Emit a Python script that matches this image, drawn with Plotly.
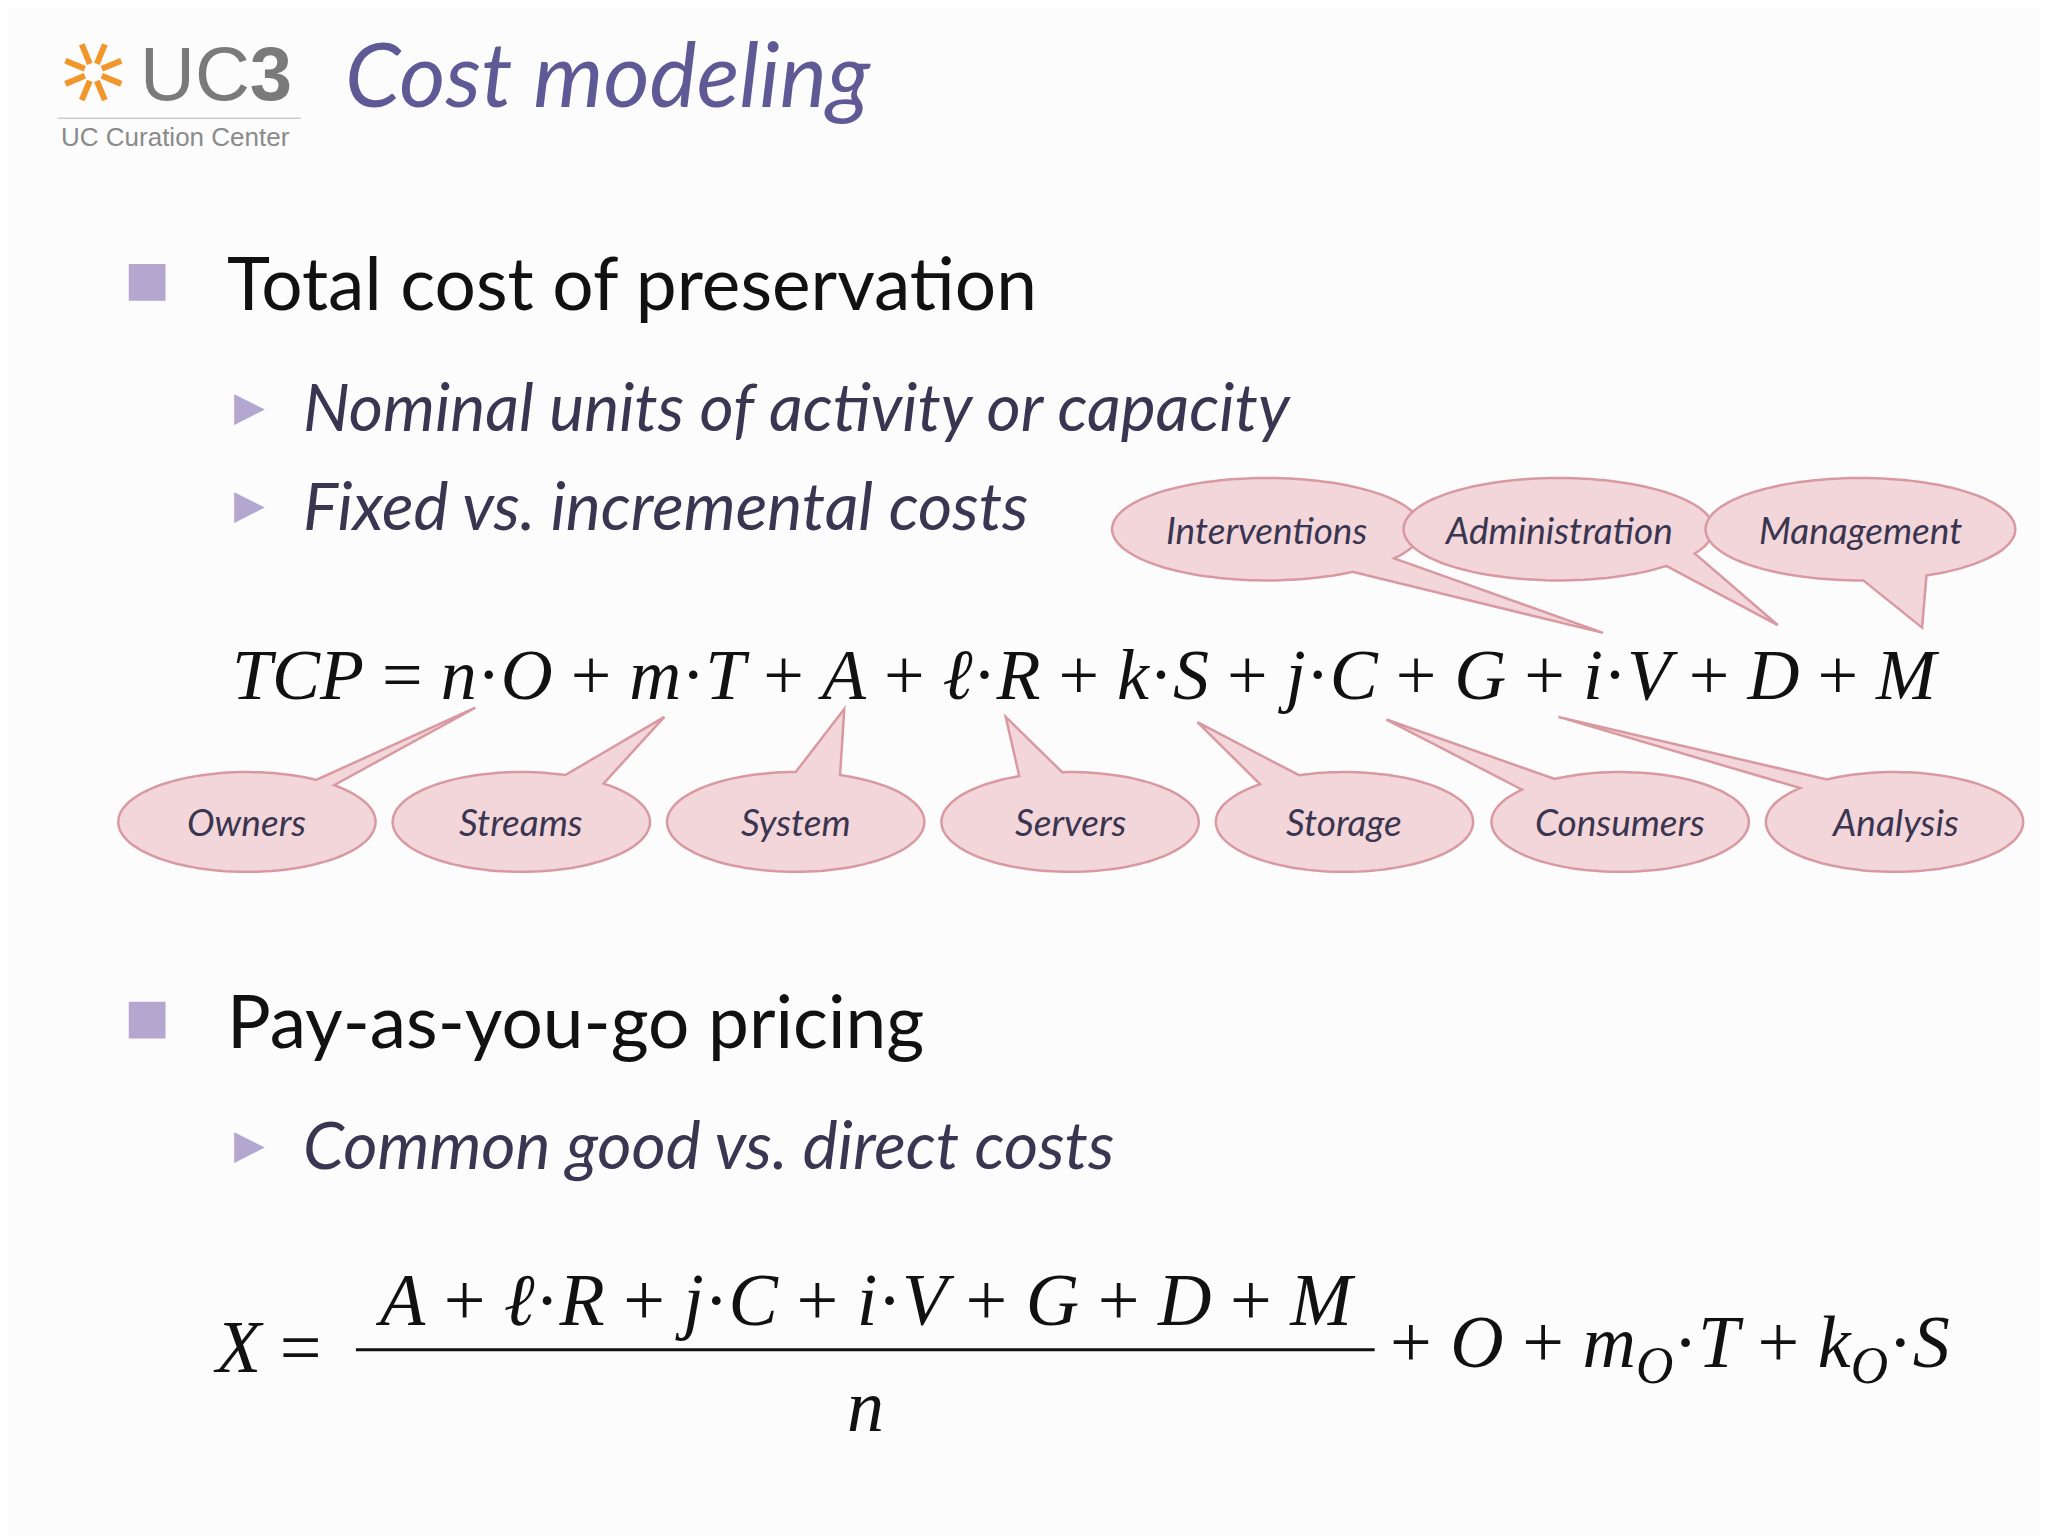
import numpy as np
import plotly.graph_objects as go

# callout bubbles: label, centre, tail tip, tail base points
top_labels = ["Interventions", "Administration", "Management"]
top_cx = [966, 1188, 1418]
top_tip = [(1222, 484), (1355, 478), (1465, 480)]
top_base = [((1030, 437), (1075, 430)), ((1270, 433), (1300, 425)), ((1420, 440), (1465, 438))]

bot_labels = ["Owners", "Streams", "System", "Servers", "Storage", "Consumers", "Analysis"]
bot_cx = [189, 398, 607, 816, 1025, 1235, 1444]
bot_tip = [(363, 541), (507, 548), (644, 542), (767, 548), (913, 552), (1057, 550), (1188, 548)]
bot_base = [((235, 600), (265, 596)), ((428, 596), (458, 600)), ((607, 591), (643, 590)),
            ((775, 591), (810, 590)), ((958, 598), (990, 592)), ((1150, 600), (1180, 592)),
            ((1355, 596), (1385, 591))]

FILL = "#f3d6d9"
EDGE = "#d89aa0"
PURPLE = "#b3a6cf"

fig = go.Figure()
shapes = []
annots = []


def bubble(cx, cy, rx, ry, tip, base, label):
    def ang(p):
        return np.arctan2((p[1] - cy) / ry, (p[0] - cx) / rx)
    a1, a2 = ang(base[0]), ang(base[1])
    d = (a2 - a1) % (2 * np.pi)
    if d > np.pi:
        a1, a2 = a2, a1
        d = 2 * np.pi - d
    t = np.linspace(a1 + d, a1 + 2 * np.pi, 120)
    xs = cx + rx * np.cos(t)
    ys = cy + ry * np.sin(t)
    pts = [(x, y) for x, y in zip(xs, ys)] + [tip]
    path = "M " + " L ".join(f"{x:.1f},{y:.1f}" for x, y in pts) + " Z"
    shapes.append(dict(type="path", path=path, fillcolor=FILL, line=dict(color=EDGE, width=2.5)))
    annots.append(dict(x=cx, y=cy, text=f"<i>{label}</i>", showarrow=False,
                       font=dict(family="Lato", size=37, color="#3a3550")))


for lab, cx, tip, base in zip(top_labels, top_cx, top_tip, top_base):
    bubble(cx, 405, 118, 39, tip, base, lab)
for lab, cx, tip, base in zip(bot_labels, bot_cx, bot_tip, bot_base):
    bubble(cx, 628, 98, 38, tip, base, lab)

# logo
for k in range(8):
    a = k * np.pi / 4 + np.pi / 8
    shapes.append(dict(type="line", x0=72 + 7 * np.cos(a), y0=57 + 7 * np.sin(a),
                       x1=72 + 23 * np.cos(a), y1=57 + 23 * np.sin(a),
                       line=dict(color="#f0962a", width=6)))
shapes.append(dict(type="line", x0=45, x1=230, y0=92, y1=92, line=dict(color="#cccccc", width=1.5)))
annots.append(dict(x=106, y=58, text="UC<b>3</b>", showarrow=False, xanchor="left",
                   font=dict(family="Liberation Sans", size=76, color="#7a7a7a")))
annots.append(dict(x=46, y=106, text="UC Curation Center", showarrow=False, xanchor="left",
                   font=dict(family="Liberation Sans", size=26, color="#8a8a8a")))
annots.append(dict(x=262, y=57, text="<i>Cost modeling</i>", showarrow=False, xanchor="left",
                   font=dict(family="Lato", size=89, color="#5f5a96")))

# bullets
for y in [217, 779]:
    shapes.append(dict(type="rect", x0=99, x1=127, y0=y - 14, y1=y + 14, fillcolor=PURPLE, line=dict(width=0)))
for txt, y in [("Total cost of preservation", 217), ("Pay-as-you-go pricing", 779)]:
    annots.append(dict(x=172, y=y, text=txt, showarrow=False, xanchor="left",
                       font=dict(family="Lato", size=73, color="#111111")))
for txt, y in [("Nominal units of activity or capacity", 311), ("Fixed vs. incremental costs", 386),
               ("Common good vs. direct costs", 873)]:
    annots.append(dict(x=178, y=y, text="▶", showarrow=False, xanchor="left",
                       font=dict(family="DejaVu Sans", size=40, color=PURPLE)))
    annots.append(dict(x=230, y=y, text=f"<i>{txt}</i>", showarrow=False, xanchor="left",
                       font=dict(family="Lato", size=66, color="#3a3550")))

# formulas
MF = dict(family="Liberation Serif", size=74, color="#111111")
tcp = ("<i>TCP</i> = <i>n</i>·<i>O</i> + <i>m</i>·<i>T</i> + <i>A</i> + <i>ℓ</i>·<i>R</i> + <i>k</i>·<i>S</i>"
       " + <i>j</i>·<i>C</i> + <i>G</i> + <i>i</i>·<i>V</i> + <i>D</i> + <i>M</i>")
annots.append(dict(x=176, y=516, text=tcp, showarrow=False, xanchor="left",
                   font=dict(family="Liberation Serif", size=72, color="#111111")))
annots.append(dict(x=162, y=1028, text="<i>X</i> =", showarrow=False, xanchor="left", font=MF))
annots.append(dict(x=660, y=992, text="<i>A</i> + <i>ℓ</i>·<i>R</i> + <i>j</i>·<i>C</i> + <i>i</i>·<i>V</i>"
                   " + <i>G</i> + <i>D</i> + <i>M</i>", showarrow=False, font=MF))
annots.append(dict(x=660, y=1073, text="<i>n</i>", showarrow=False, font=MF))
shapes.append(dict(type="line", x0=272, x1=1048, y0=1030, y1=1030, line=dict(color="#111111", width=3)))
annots.append(dict(x=1058, y=1028, text="+ <i>O</i> + <i>m</i><sub><i>O</i></sub>·<i>T</i> + <i>k</i><sub><i>O</i></sub>·<i>S</i>",
                   showarrow=False, xanchor="left", font=MF))

fig.update_layout(
    width=2048, height=1536, margin=dict(l=0, r=0, t=0, b=0),
    paper_bgcolor="#fcfcfd", plot_bgcolor="#fcfcfd",
    xaxis=dict(range=[7, 1567], visible=False, fixedrange=True),
    yaxis=dict(range=[1178, 8], visible=False, fixedrange=True),
    shapes=shapes, annotations=annots, showlegend=False,
)
fig.write_html("out.html")
